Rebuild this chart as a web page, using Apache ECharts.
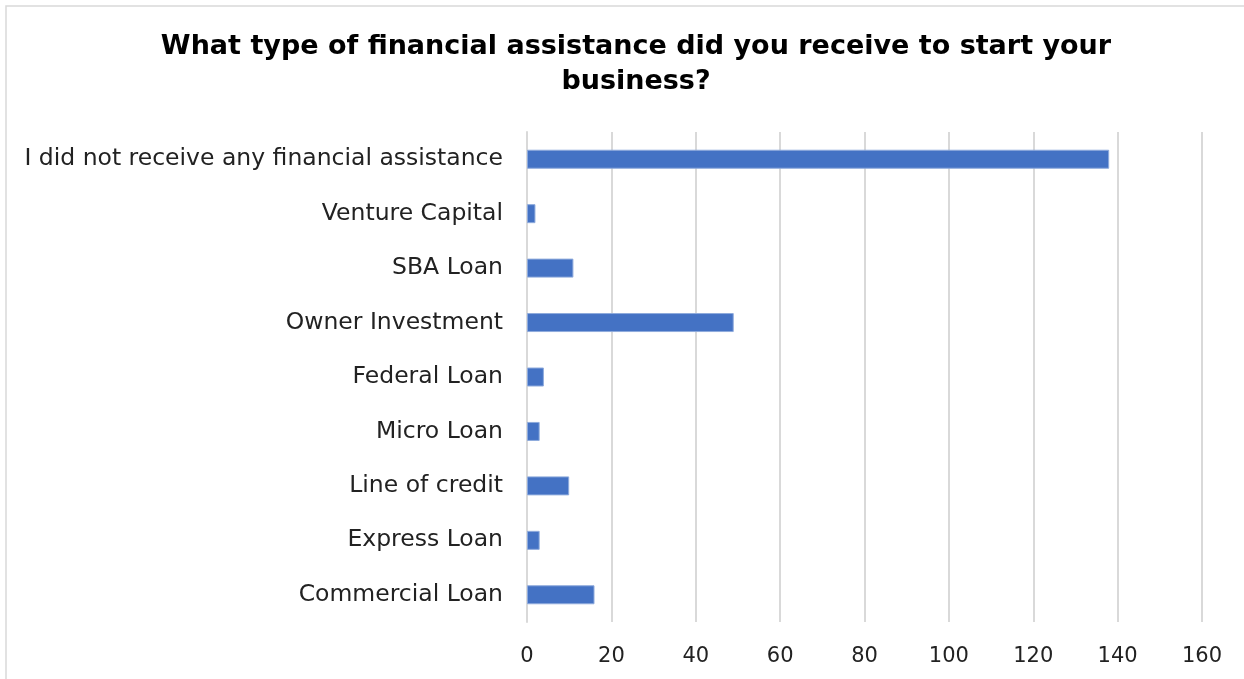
<!DOCTYPE html>
<html>
<head>
<meta charset="utf-8">
<script src="https://cdn.jsdelivr.net/npm/echarts@6/dist/echarts.min.js"></script>
<style>
html,body{margin:0;padding:0;background:#fff;}
#chart{width:1244px;height:679px;}
</style>
</head>
<body>
<div id="chart"></div>
<script>
// Survey answers, listed bottom-to-top as drawn on the category axis
const categories = [
  'Commercial Loan',
  'Express Loan',
  'Line of credit',
  'Micro Loan',
  'Federal Loan',
  'Owner Investment',
  'SBA Loan',
  'Venture Capital',
  'I did not receive any financial assistance'
];
const responses = [16, 3, 10, 3, 4, 49, 11, 2, 138];
const titleText = 'What type of financial assistance did you receive to start your\nbusiness?';

const chart = echarts.init(document.getElementById('chart'));
const font = '"DejaVu Sans", "Noto Sans", sans-serif';

chart.setOption({
  animation: false,
  backgroundColor: '#ffffff',
  graphic: [{
    type: 'rect',
    shape: { x: 6, y: 6, width: 1260, height: 700 },
    style: { fill: 'none', stroke: '#d9d9d9', lineWidth: 1.5 },
    silent: true
  }],
  title: {
    text: titleText,
    left: 631,
    textAlign: 'center',
    top: 24,
    textStyle: {
      fontFamily: font,
      fontWeight: 'bold',
      fontSize: 27,
      lineHeight: 35,
      color: '#000000'
    }
  },
  grid: { left: 527, right: 42, top: 132, bottom: 57, containLabel: false },
  xAxis: {
    type: 'value',
    min: 0,
    max: 160,
    interval: 20,
    axisLine: { show: false },
    axisTick: { show: false },
    splitLine: { lineStyle: { color: '#d9d9d9', width: 2 } },
    axisLabel: {
      margin: 24,
      fontFamily: font,
      fontSize: 21,
      color: '#222222'
    }
  },
  yAxis: {
    type: 'category',
    data: categories,
    axisLine: { show: true, lineStyle: { color: '#d9d9d9', width: 2 } },
    axisTick: { show: false },
    axisLabel: {
      margin: 24,
      fontFamily: font,
      fontSize: 23.5,
      color: '#222222'
    }
  },
  series: [{
    type: 'bar',
    data: responses,
    barWidth: 19,
    itemStyle: {
      color: '#4472c4',
      borderColor: '#8eaadc',
      borderWidth: 1
    }
  }]
});
</script>
</body>
</html>
